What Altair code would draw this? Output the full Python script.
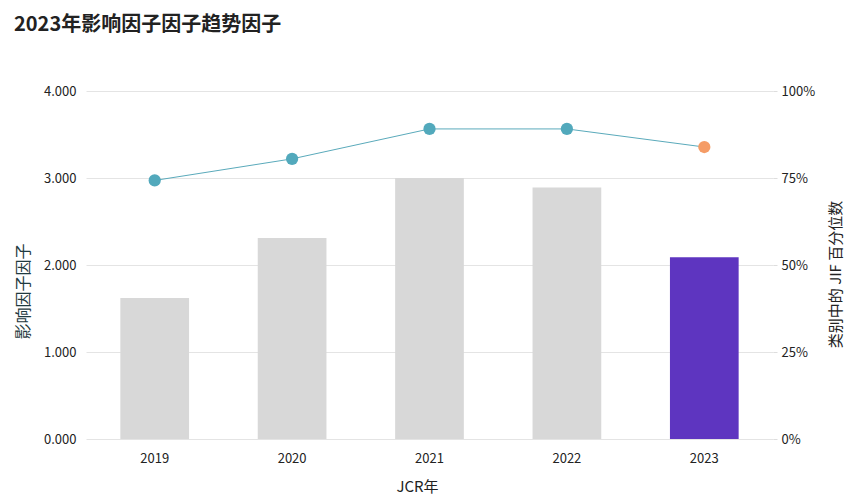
import altair as alt
import pandas as pd

years = ["2019", "2020", "2021", "2022", "2023"]
jif = [1.62, 2.31, 3.00, 2.89, 2.09]
pct = [0.743, 0.805, 0.891, 0.891, 0.839]
bar_colors = ["#d8d8d8", "#d8d8d8", "#d8d8d8", "#d8d8d8", "#5e35c0"]
pt_colors = ["#52a9bc", "#52a9bc", "#52a9bc", "#52a9bc", "#f59c66"]

df = pd.DataFrame({"year": years, "jif": jif, "pct": pct,
                   "bc": bar_colors, "pc": pt_colors})

FONT = "Noto Sans CJK SC"

x = alt.X("year:N", title="JCR年", sort=years,
          scale=alt.Scale(paddingInner=0.5, paddingOuter=0.25),
          axis=alt.Axis(labelAngle=0, ticks=False, domain=False, labelPadding=13,
                        labelFontSize=13, labelColor="#222", titleFontSize=15,
                        titleColor="#222", titleFontWeight="normal", titlePadding=14,
                        titleX=331,
                        labelFont=FONT, titleFont=FONT))

bars = alt.Chart(df).mark_bar().encode(
    x=x,
    y=alt.Y("jif:Q", title="影响因子因子",
            scale=alt.Scale(domain=[0, 4]),
            axis=alt.Axis(values=[0, 1, 2, 3, 4], format=".3f", ticks=False, domain=False,
                          labelPadding=10, labelFontSize=13, labelColor="#222",
                          gridColor="#e4e4e4", titleFontSize=16, titleColor="#1f3a40",
                          titleFontWeight="normal", titleX=-55, titleY=200,
                          labelFont=FONT, titleFont=FONT)),
    color=alt.Color("bc:N", scale=None),
)

line = alt.Chart(df).mark_line(color="#5aaabb", strokeWidth=1).encode(
    x=alt.X("year:N", sort=years),
    y=alt.Y("pct:Q", title="类别中的 JIF 百分位数",
            scale=alt.Scale(domain=[0, 1]),
            axis=alt.Axis(orient="right", values=[0, 0.25, 0.5, 0.75, 1], format=".0%",
                          grid=False, domain=False, tickSize=4, tickColor="#ddd",
                          labelPadding=4, labelFontSize=13, labelColor="#222",
                          titleFontSize=15, titleColor="#222", titleFontWeight="normal",
                          titleAngle=270, titleX=70, titleY=183,
                          labelFont=FONT, titleFont=FONT)),
)

points = alt.Chart(df).mark_circle(size=150, opacity=1).encode(
    x=alt.X("year:N", sort=years),
    y=alt.Y("pct:Q"),
    color=alt.Color("pc:N", scale=None),
)

chart = alt.layer(bars, alt.layer(line, points)).resolve_scale(y="independent").properties(
    width=687, height=348,
    autosize=alt.AutoSizeParams(type="none"),
    padding={"left": 78, "top": 83, "right": 78, "bottom": 56},
    title=alt.TitleParams("2023年影响因子因子趋势因子", anchor="start", frame="group",
                          dx=-72, dy=-46,
                          fontSize=20, font=FONT, fontWeight="bold", color="#222"),
).configure_view(stroke=None)

chart.save("out.html", embed_options={"renderer": "svg", "actions": False})
